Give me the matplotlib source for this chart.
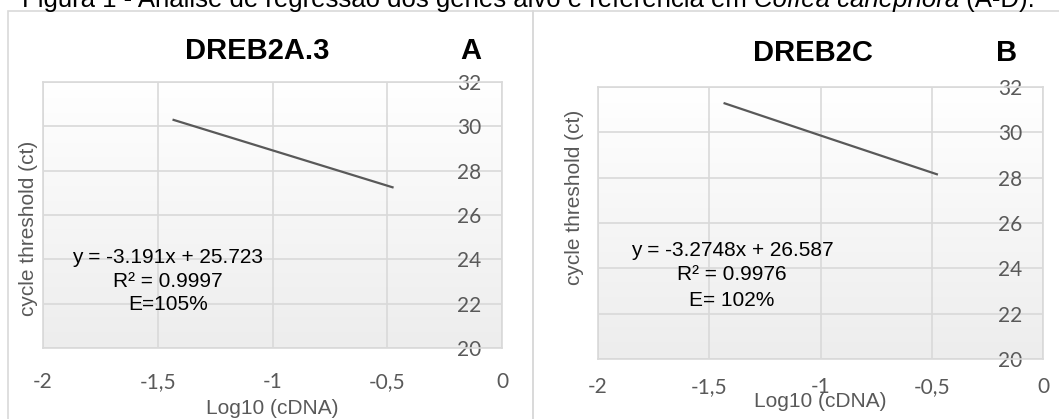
import numpy as np
import matplotlib
matplotlib.use("Agg")
import matplotlib.pyplot as plt
from matplotlib.colors import LinearSegmentedColormap
from matplotlib.patches import Rectangle

# data (3-fold dilutions)
log_cdna = [-1.431, -0.954, -0.477]
ct_dreb2a3 = [30.29, 28.77, 27.25]
ct_dreb2c = [31.28, 29.71, 28.15]

x_ticks = [-2, -1.5, -1, -0.5, 0]
x_ticklabels = ["-2", "-1,5", "-1", "-0,5", "0"]
y_ticks = [20, 22, 24, 26, 28, 30, 32]
y_ticklabels = ["20", "22", "24", "26", "28", "30", "32"]

eq_a = ["y = -3.191x + 25.723", "R² = 0.9997", "E=105%"]
eq_b = ["y = -3.2748x + 26.587", "R² = 0.9976", "E= 102%"]

W, H = 1059, 419
fig = plt.figure(figsize=(W / 100, H / 100), dpi=100)
fig.patch.set_facecolor("white")

grid_c = "#d9d9d9"
text_c = "#595959"
bg_cmap = LinearSegmentedColormap.from_list("bg", ["#ededed", "#ffffff"])


def px(x, y):
    # pixel (from top-left) -> figure fraction
    return x / W, 1 - y / H


# panel frames
fig.add_artist(Rectangle(px(8, 430), (533 - 8) / W, (430 - 11) / H, transform=fig.transFigure,
                         fill=False, edgecolor=grid_c, lw=1.2))
fig.add_artist(Rectangle(px(533, 430), (1070 - 533) / W, (430 - 11) / H, transform=fig.transFigure,
                         fill=False, edgecolor=grid_c, lw=1.2))


def make_panel(rect, xs, ys, title, letter, title_pos, letter_x, eq, eq_x, eq_y, xlab_y, ylab_pos, xpad):
    l, t, r, b = rect
    ax = fig.add_axes([l / W, 1 - b / H, (r - l) / W, (b - t) / H])
    ax.imshow(np.linspace(0, 1, 100)[:, None], extent=[0, 1, 0, 1], transform=ax.transAxes,
              aspect="auto", cmap=bg_cmap, origin="lower", zorder=0)
    ax.plot(xs, ys, color="#595959", lw=1.6, zorder=3)
    ax.set_xlim(-2, 0)
    ax.set_ylim(20, 32)
    ax.set_xticks(x_ticks)
    ax.set_xticklabels(x_ticklabels)
    ax.set_yticks(y_ticks)
    ax.set_yticklabels(y_ticklabels)
    ax.grid(True, color=grid_c, lw=1.2, zorder=1)
    ax.set_axisbelow(True)
    for s in ax.spines.values():
        s.set_color(grid_c)
        s.set_linewidth(1.2)
    ax.tick_params(axis="x", length=0, pad=xpad, labelsize=15, labelcolor=text_c)
    ax.tick_params(axis="y", length=0, left=False, right=False, labelleft=False, labelright=True,
                   pad=-32.5, labelsize=15, labelcolor=text_c)
    for lab in ax.get_xticklabels() + ax.get_yticklabels():
        lab.set_fontfamily("Lato")

    fig.text(*px(*title_pos), title, ha="center", va="baseline", fontsize=21,
             fontweight="bold", family="Liberation Sans")
    fig.text(*px(letter_x, title_pos[1]), letter, ha="center", va="baseline", fontsize=21,
             fontweight="bold", family="Liberation Sans")
    for line, yy in zip(eq, eq_y):
        fig.text(*px(eq_x, yy), line, ha="center", va="baseline", fontsize=15,
                 family="Liberation Sans", color="black")
    fig.text(*px((l + r) / 2, xlab_y), "Log10 (cDNA)", ha="center", va="top", fontsize=15,
             family="Liberation Sans", color=text_c)
    fig.text(*px(*ylab_pos), "cycle threshold (ct)", ha="center", va="center", rotation=90,
             fontsize=15, family="Liberation Sans", color=text_c)
    return ax


make_panel((43, 82, 502, 348), log_cdna, ct_dreb2a3, "DREB2A.3", "A", (257, 59), 471,
           eq_a, 168, [263, 287, 310], 399, (29, 228), 17)
make_panel((598, 87, 1043, 359), log_cdna, ct_dreb2c, "DREB2C", "B", (813, 61), 1007,
           eq_b, 732, [256, 280, 306], 392, (574, 197), 13)

# figure caption, clipped at the top of the image
fs = 18.5
y0 = 1 - 7 / H
parts = [("Figura 1 - Análise de regressão dos genes alvo e referência em ", "normal"),
         ("Coffea canephora", "italic"),
         (" (A-D).", "normal")]
renderer = fig.canvas.get_renderer()
x = 22 / W
for txt, style in parts:
    t = fig.text(x, y0, txt, ha="left", va="baseline", fontsize=fs, style=style,
                 family="Liberation Sans", color="black")
    bb = t.get_window_extent(renderer=renderer)
    x = bb.x1 / W

fig.savefig("out.png", dpi=100)
